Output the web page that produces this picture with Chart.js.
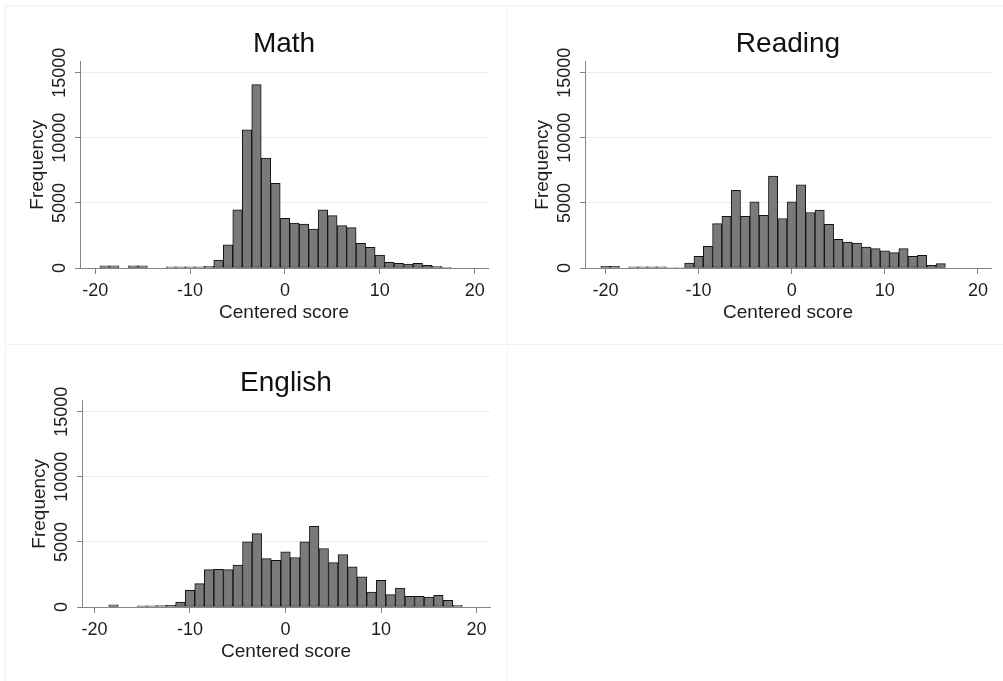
<!DOCTYPE html>
<html>
<head>
<meta charset="utf-8">
<title>Centered score histograms</title>
<script src="https://cdn.jsdelivr.net/npm/chart.js@4"></script>
<style>
  body { margin: 0; background: #fff; }
  #page { position: relative; width: 1003px; height: 681px; overflow: hidden; background: #fff; }
  .panel { position: absolute; }
  .frame { position: absolute; background: #f1f1f3; }
</style>
</head>
<body>
<div id="page">
  <div class="frame" style="left:5px;top:5px;width:998px;height:1px"></div>
  <div class="frame" style="left:5px;top:5px;width:1px;height:676px"></div>
  <div class="frame" style="left:507px;top:5px;width:1px;height:676px"></div>
  <div class="frame" style="left:5px;top:344px;width:998px;height:1px"></div>
  <canvas id="math" class="panel" width="500" height="340" style="left:0px;top:0px"></canvas>
  <canvas id="reading" class="panel" width="498" height="340" style="left:505px;top:0px"></canvas>
  <canvas id="english" class="panel" width="500" height="340" style="left:2px;top:339px"></canvas>
</div>
<script>
'use strict';

// histogram bins (bin centres, width 1)
let bins = [-20, -19, -18, -17, -16, -15, -14, -13, -12, -11, -10, -9, -8, -7, -6, -5, -4, -3, -2, -1,
  0, 1, 2, 3, 4, 5, 6, 7, 8, 9, 10, 11, 12, 13, 14, 15, 16, 17, 18];

let mathCounts = [null, 170, 170, null, 170, 170, null, null, 90, 90, 90, 90, 130, 615, 1770, 4460, 10620, 14080, 8440, 6510,
  3820, 3440, 3380, 2980, 4460, 4020, 3250, 3100, 1900, 1590, 1000, 440, 360, 310, 360, 210, 130, 60, null];

let readingCounts = [120, 120, null, 90, 90, 90, 90, 40, 40, 385, 900, 1670, 3410, 3970, 5970, 3970, 5080, 4050, 7050, 3800,
  5080, 6390, 4260, 4440, 3360, 2200, 2000, 1920, 1615, 1490, 1310, 1180, 1490, 900, 975, 200, 330, null, null];

let englishCounts = [null, null, 170, null, null, 90, 90, 100, 120, 385, 1280, 1800, 2870, 2900, 2870, 3210, 5000, 5640, 3720, 3590,
  4230, 3800, 5000, 6200, 4490, 3410, 4030, 3080, 2310, 1150, 2050, 950, 1460, 820, 820, 770, 900, 510, 130];

let xTicks = [-20, -10, 0, 10, 20];
let yTicks = [0, 5000, 10000, 15000];

let fontFamily = '"Liberation Sans", Arial, sans-serif';
let textColor = '#1e1e1e';
let axisColor = '#858585';
let gridColor = '#ececf0';

// Stata style vertical y tick labels
const rotatedYTicks = {
  id: 'rotatedYTicks',
  afterDraw(chart) {
    let yScale = chart.scales.y;
    let ctx = chart.ctx;
    ctx.save();
    ctx.fillStyle = textColor;
    ctx.font = '18px ' + fontFamily;
    ctx.textAlign = 'center';
    ctx.textBaseline = 'middle';
    for (let i = 0; i < yTicks.length; i++) {
      let y = yScale.getPixelForValue(yTicks[i]);
      ctx.save();
      ctx.translate(60, y);
      ctx.rotate(-Math.PI / 2);
      ctx.fillText(String(yTicks[i]), 0, 0);
      ctx.restore();
    }
    ctx.restore();
  }
};

function makeHistogram(canvasId, title, counts, xMin, xMax) {
  let points = [];
  for (let i = 0; i < bins.length; i++) {
    points.push({ x: bins[i], y: counts[i] });
  }

  const config = {
    type: 'bar',
    data: {
      datasets: [
        {
          label: title,
          data: points,
          backgroundColor: '#7a7a7a',
          borderColor: '#121212',
          borderWidth: 1,
          borderSkipped: false,
          barPercentage: 1,
          categoryPercentage: 1,
        },
      ],
    },
    options: {
      responsive: false,
      animation: false,
      layout: { padding: { left: 0, right: 12, top: 0, bottom: 0 } },
      plugins: {
        legend: { display: false },
        tooltip: { enabled: false },
        title: {
          display: true,
          text: title,
          fullSize: false,
          color: '#111',
          font: { size: 28, family: fontFamily, weight: 'normal' },
          padding: { top: 27, bottom: 1 },
        },
      },
      scales: {
        x: {
          type: 'linear',
          min: xMin,
          max: xMax,
          offset: false,
          afterBuildTicks: function (scale) {
            scale.ticks = xTicks.map(function (v) { return { value: v }; });
          },
          afterFit: function (scale) {
            scale.height = 72;
          },
          grid: { drawOnChartArea: false, drawTicks: true, tickLength: 6, tickColor: axisColor, offset: false },
          border: { color: axisColor, width: 1 },
          ticks: { color: textColor, font: { size: 18, family: fontFamily }, padding: 6, maxRotation: 0, autoSkip: false },
          title: {
            display: true,
            text: 'Centered score',
            color: textColor,
            font: { size: 19, family: fontFamily },
            padding: { top: 0, bottom: 16 },
          },
        },
        y: {
          min: 0,
          max: 15850,
          afterBuildTicks: function (scale) {
            scale.ticks = yTicks.map(function (v) { return { value: v }; });
          },
          afterFit: function (scale) {
            scale.width = 80;
          },
          grid: {
            color: function (context) {
              if (context.tick && context.tick.value === 0) {
                return 'rgba(0,0,0,0)';
              }
              return gridColor;
            },
            tickColor: axisColor,
            tickLength: 5,
          },
          border: { color: axisColor, width: 1 },
          ticks: { display: false },
          title: {
            display: true,
            text: 'Frequency',
            color: textColor,
            font: { size: 19, family: fontFamily },
            padding: { top: 26, bottom: 0 },
          },
        },
      },
    },
    plugins: [rotatedYTicks],
  };

  let chartCanvas = document.getElementById(canvasId).getContext('2d');
  return new Chart(chartCanvas, config);
}

makeHistogram('math', 'Math', mathCounts, -21.6, 21.4);
makeHistogram('reading', 'Reading', readingCounts, -22.2, 21.4);
makeHistogram('english', 'English', englishCounts, -21.3, 21.4);
</script>
</body>
</html>
